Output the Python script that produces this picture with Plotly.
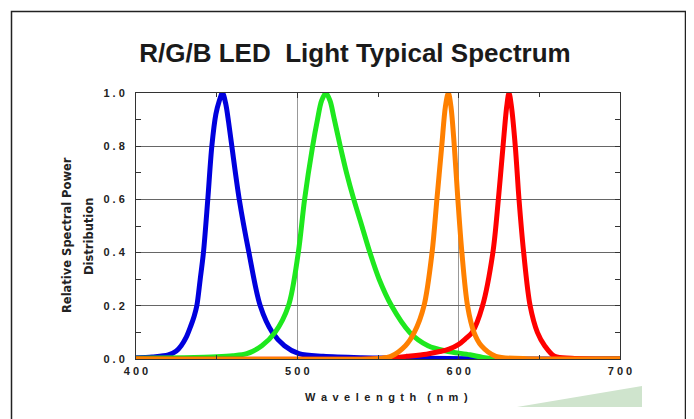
import plotly.graph_objects as go

# ---- data ----
wl_blue = [400, 410, 420, 425, 428, 431, 434, 436, 437.7, 439.8, 441.8, 444.5, 447, 449.5, 451.6, 453.6, 455.6, 457.4, 459.4, 464, 470, 477, 484.5, 492, 501, 516, 540, 580, 620, 700]
val_blue = [0.005, 0.008, 0.015, 0.03, 0.05, 0.08, 0.125, 0.16, 0.2, 0.3, 0.4, 0.6, 0.8, 0.92, 0.97, 1.0, 0.96, 0.89, 0.8, 0.6, 0.4, 0.2, 0.1, 0.05, 0.02, 0.01, 0.005, 0.003, 0.0, 0.0]

wl_green = [400, 430, 450, 460, 468.7, 478, 486.2, 494.5, 500.6, 504.5, 509.5, 512.5, 515, 517.7, 520.3, 522.6, 526.6, 530.5, 535, 540, 545, 550.7, 558.4, 569.7, 581, 592, 607, 615, 625, 700]
val_green = [0.003, 0.005, 0.008, 0.012, 0.02, 0.05, 0.1, 0.2, 0.4, 0.6, 0.8, 0.9, 0.97, 1.0, 0.97, 0.91, 0.8, 0.7, 0.6, 0.5, 0.4, 0.3, 0.2, 0.1, 0.05, 0.03, 0.016, 0.006, 0.0, 0.0]

wl_orange = [400, 545, 551, 558, 567, 572.5, 578.5, 583.5, 586.5, 589.5, 591.8, 593.6, 595.2, 597.3, 599.5, 602, 605.5, 609.5, 614, 623, 640, 700]
val_orange = [0, 0, 0.002, 0.01, 0.05, 0.1, 0.2, 0.4, 0.6, 0.8, 0.95, 1.0, 0.95, 0.8, 0.6, 0.4, 0.2, 0.1, 0.05, 0.01, 0.002, 0.0]

wl_red = [400, 545, 555, 567.7, 580, 588.3, 594, 600, 604, 608.4, 614.8, 621.2, 624.6, 627.5, 629.8, 631.2, 632.7, 635.1, 637.4, 640.3, 644.3, 648.8, 653.3, 659.5, 670, 700]
val_red = [0, 0, 0.003, 0.01, 0.018, 0.028, 0.037, 0.055, 0.075, 0.1, 0.2, 0.4, 0.6, 0.8, 0.95, 1.0, 0.95, 0.8, 0.6, 0.4, 0.2, 0.1, 0.05, 0.01, 0.003, 0.0]

x_tickvals = [400, 500, 600, 700]
x_ticktext = ["4 0 0", "5 0 0", "6 0 0", "7 0 0"]
y_tickvals = [0, 0.2, 0.4, 0.6, 0.8, 1.0]
y_ticktext = ["0 . 0", "0 . 2", "0 . 4", "0 . 6", "0 . 8", "1 . 0"]

title_text = "R/G/B LED\u00a0 Light Typical Spectrum"
x_title = "\u2002".join("Wavelength") + "\u2003" + "\u2002".join("(nm)")
y_title_1 = "Relative Spectral Power"
y_title_2 = "Distribution"

series = [
    (wl_blue, val_blue, "#0000dd"),
    (wl_green, val_green, "#1ee81e"),
    (wl_red, val_red, "#ff0000"),
    (wl_orange, val_orange, "#ff8000"),
]

fig = go.Figure()
for xs, ys, c in series:
    fig.add_trace(go.Scatter(x=xs, y=ys, mode="lines",
                             line=dict(color=c, width=5, shape="spline", smoothing=0.9),
                             showlegend=False, hoverinfo="skip"))

W, H = 694, 419
OFF = 8  # page body margin
L, T = 136 - OFF, 93 - OFF
R, B = W - (620 - OFF), H - (359 - OFF)
pw, ph = W - L - R, H - T - B

def px(xr):
    return (xr - OFF - L) / pw

def py(yr):
    return (H - B - (yr - OFF)) / ph

axis_font = dict(family="Liberation Sans, Arial", size=11, weight="bold", color="#222")

fig.update_layout(
    width=W, height=H,
    margin=dict(l=L, r=R, t=T, b=B),
    paper_bgcolor="white", plot_bgcolor="white",
    title=dict(text=title_text, x=0.5, xref="container", xanchor="center",
               y=1 - (53 - OFF) / H, yanchor="middle",
               font=dict(family="Liberation Sans, Arial", size=26, color="#1a1a1a", weight="bold")),
    font=dict(family="Liberation Sans, Arial", color="#222"),
    xaxis=dict(range=[400, 700], tickvals=x_tickvals, ticktext=x_ticktext,
               showgrid=True, gridcolor="#999", gridwidth=1,
               showline=True, linecolor="#333", linewidth=1, mirror="ticks",
               ticks="inside", ticklen=5, tickcolor="#333",
               minor=dict(dtick=50, tick0=400, ticks="inside", ticklen=4, tickcolor="#333", showgrid=False),
               tickfont=axis_font, ticklabelstandoff=2,
               zeroline=False, fixedrange=True),
    yaxis=dict(range=[0, 1], tickvals=y_tickvals, ticktext=y_ticktext,
               showgrid=True, gridcolor="#666", gridwidth=1,
               showline=True, linecolor="#333", linewidth=1, mirror="ticks",
               ticks="inside", ticklen=5, tickcolor="#333",
               minor=dict(dtick=0.1, tick0=0, ticks="inside", ticklen=5, tickcolor="#333", showgrid=False),
               tickfont=axis_font, ticklabelstandoff=8,
               zeroline=False, fixedrange=True),
    annotations=[
        dict(text=x_title, xref="paper", yref="paper", x=px(386), y=py(397),
             xanchor="center", yanchor="middle", showarrow=False,
             font=dict(family="Liberation Sans, Arial", size=11, weight="bold", color="#222")),
        dict(text=y_title_1, xref="paper", yref="paper", x=px(67), y=py(235),
             xanchor="center", yanchor="middle", showarrow=False, textangle=-90,
             font=dict(family="DejaVu Sans", size=11.5, weight="bold", color="#222")),
        dict(text=y_title_2, xref="paper", yref="paper", x=px(89), y=py(237),
             xanchor="center", yanchor="middle", showarrow=False, textangle=-90,
             font=dict(family="DejaVu Sans", size=11.5, weight="bold", color="#222")),
    ],
    shapes=[
        dict(type="rect", xref="paper", yref="paper",
             x0=px(11.5), x1=px(685.5), y0=py(450), y1=py(11.5),
             line=dict(color="#222", width=1.5), layer="below"),
        dict(type="path", xref="paper", yref="paper",
             path=f"M {px(517)} {py(407)} L {px(642)} {py(386)} L {px(642)} {py(407)} Z",
             fillcolor="#cfe4cd", line=dict(width=0), layer="below"),
    ],
)

fig.write_html("out.html")
